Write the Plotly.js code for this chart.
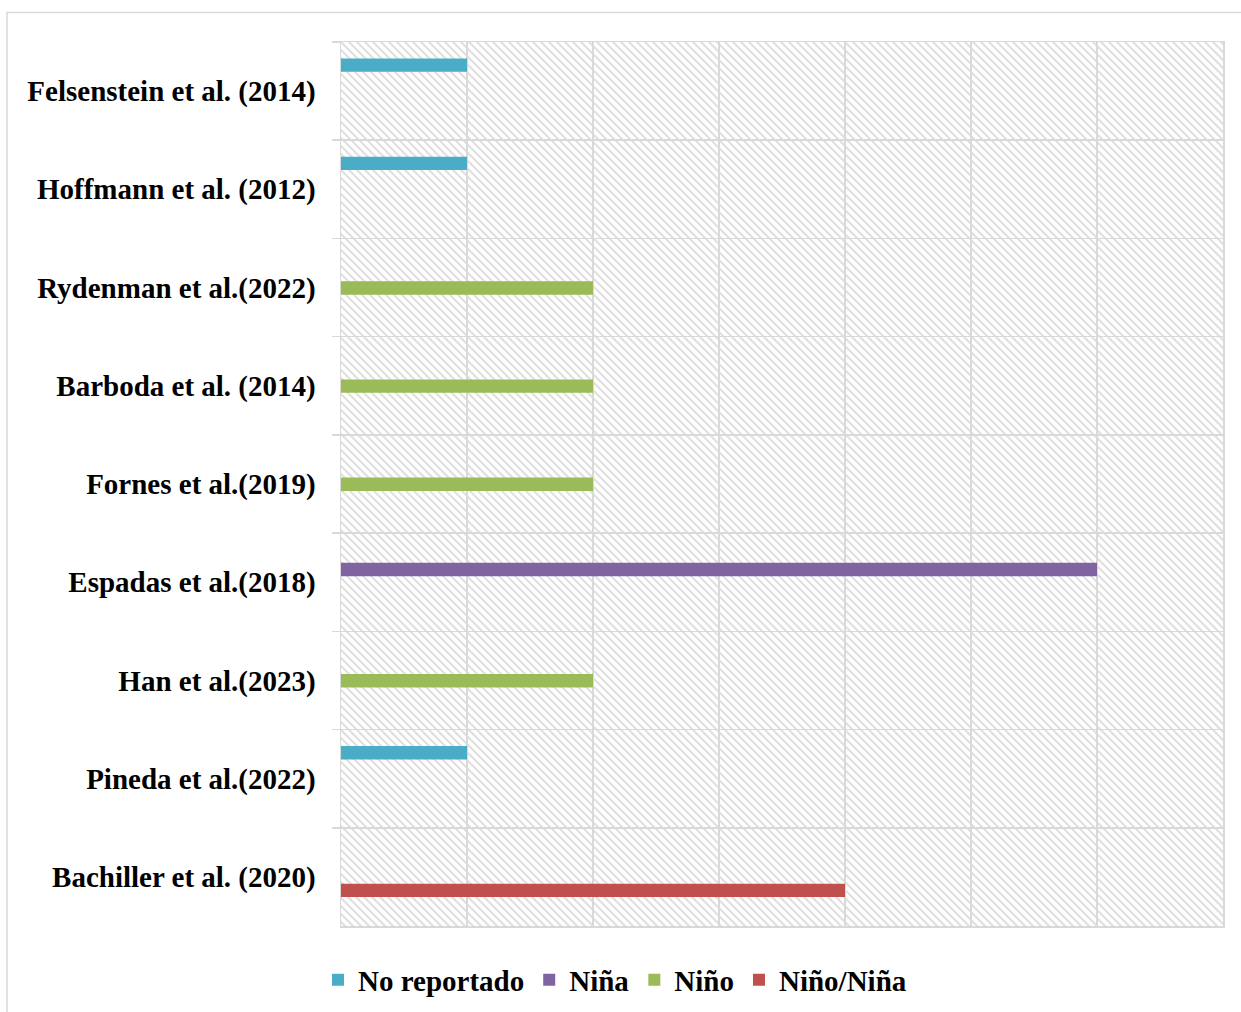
<!DOCTYPE html>
<html>
<head>
<meta charset="utf-8">
<script src="https://cdn.plot.ly/plotly-3.0.1.min.js"></script>
<style>html,body{margin:0;padding:0;background:#fff;}#chart{width:1241px;height:1012px;}</style>
</head>
<body>
<div id="chart"></div>
<script>
// Categories (top to bottom)
const studies = [
  "Felsenstein et al. (2014)",
  "Hoffmann et al. (2012)",
  "Rydenman et al.(2022)",
  "Barboda et al. (2014)",
  "Fornes et al.(2019)",
  "Espadas et al.(2018)",
  "Han et al.(2023)",
  "Pineda et al.(2022)",
  "Bachiller et al. (2020)"
];
const seriesNames = ["No reportado", "Niña", "Niño", "Niño/Niña"];
const noReportado = [1, 1, null, null, null, null, null, 1, null];
const nina        = [null, null, null, null, null, 6, null, null, null];
const nino        = [null, null, 2, 2, 2, null, 2, null, null];
const ninoNina    = [null, null, null, null, null, null, null, null, 4];
const seriesValues = [noReportado, nina, nino, ninoNina];
const seriesColors = ["#4bacc6", "#8064a2", "#9bbb59", "#c0504d"];
const barOffsets = [-0.333, -0.199, -0.065, 0.069];

const font = "Liberation Serif, Times New Roman, serif";

const traces = seriesNames.map((name, i) => ({
  type: "bar",
  orientation: "h",
  name: name,
  y: studies,
  x: seriesValues[i],
  width: 0.137,
  offset: barOffsets[i],
  marker: {color: seriesColors[i], line: {width: 0}},
  hoverinfo: "x+y+name"
}));

const W = 1241, H = 1012, ML = 341, MR = 18, MT = 42, MB = 86;
const PW = W - ML - MR, PH = H - MT - MB;

const svg = "<svg xmlns='http://www.w3.org/2000/svg' width='" + PW + "' height='" + PH + "'>" +
  "<defs><pattern id='p' width='8' height='8' patternUnits='userSpaceOnUse'>" +
  "<path d='M-1,-1 L9,9 M-1,7 L1,9 M7,-1 L9,1' stroke='#e0e0e0' stroke-width='2.2'/>" +
  "</pattern></defs><rect width='100%' height='100%' fill='url(#p)'/></svg>";
const svgUri = "data:image/svg+xml;charset=utf-8," + encodeURIComponent(svg);

const layout = {
  width: W, height: H,
  margin: {l: ML, r: MR, t: MT, b: MB, pad: 0},
  paper_bgcolor: "#ffffff",
  plot_bgcolor: "#ffffff",
  barmode: "overlay",
  showlegend: true,
  font: {family: font, color: "#000"},
  xaxis: {
    range: [0, 7], dtick: 1, tick0: 0,
    showgrid: true, gridcolor: "#d9d9d9", gridwidth: 1.5,
    showticklabels: false, ticks: "", zeroline: false,
    showline: true, mirror: true, linecolor: "#d9d9d9", linewidth: 1.5,
    fixedrange: true
  },
  yaxis: {
    type: "category",
    categoryorder: "array", categoryarray: studies,
    autorange: "reversed",
    tickson: "boundaries",
    ticks: "outside", ticklen: 8, tickcolor: "#d9d9d9", tickwidth: 1.5,
    showgrid: true, gridcolor: "#d9d9d9", gridwidth: 1.5,
    showline: true, mirror: true, linecolor: "#d9d9d9", linewidth: 1.5,
    zeroline: false,
    ticklabelstandoff: 18,
    tickfont: {family: font, size: 29, color: "#000", weight: "bold"},
    fixedrange: true
  },
  legend: {
    orientation: "h",
    xref: "container", yref: "container",
    x: 318 / W, xanchor: "left",
    y: 1 - 980 / H, yanchor: "middle",
    font: {family: font, size: 29, color: "#000", weight: "bold"},
    itemwidth: 30,
    traceorder: "normal",
    bgcolor: "rgba(0,0,0,0)"
  },
  images: [{
    source: svgUri,
    xref: "paper", yref: "paper",
    x: 0, y: 1, sizex: 1, sizey: 1,
    xanchor: "left", yanchor: "top",
    sizing: "stretch", layer: "below"
  }],
  shapes: [{
    type: "rect", xref: "paper", yref: "paper",
    x0: (7 - ML) / PW, x1: (W + 20 - ML) / PW,
    y0: (H - MB - (H + 20)) / PH, y1: (H - MB - 12.5) / PH,
    line: {color: "#d9d9d9", width: 1.5},
    fillcolor: "rgba(0,0,0,0)", layer: "below"
  }]
};

Plotly.newPlot("chart", traces, layout, {displayModeBar: false, staticPlot: true});
</script>
</body>
</html>
